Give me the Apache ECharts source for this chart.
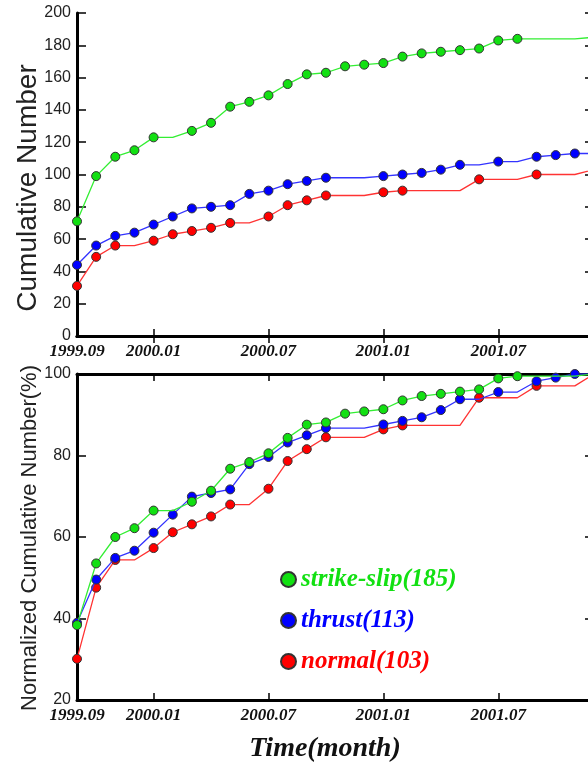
<!DOCTYPE html>
<html>
<head>
<meta charset="utf-8">
<script src="https://cdn.jsdelivr.net/npm/echarts@6/dist/echarts.min.js"></script>
<style>html,body{margin:0;padding:0;background:#fff;}#c{width:588px;height:764px;}</style>
</head>
<body>
<div id="c"></div>
<script>
// Months from 1999.09 to 2001.12
var months = ['1999.09','1999.10','1999.11','1999.12','2000.01','2000.02','2000.03','2000.04','2000.05','2000.06','2000.07','2000.08','2000.09','2000.10','2000.11','2000.12','2001.01','2001.02','2001.03','2001.04','2001.05','2001.06','2001.07','2001.08','2001.09','2001.10','2001.11','2001.12'];
var tickLabels = ['1999.09','2000.01','2000.07','2001.01','2001.07'];
// Cumulative numbers
var strikeSlip = [71,99,111,115,123,123,127,132,142,145,149,156,162,163,167,168,169,173,175,176,177,178,183,184,184,184,184,185];
var thrust     = [44,56,62,64,69,74,79,80,81,88,90,94,96,98,98,98,99,100,101,103,106,106,108,108,111,112,113,113];
var normal     = [31,49,56,56,59,63,65,67,70,70,74,81,84,87,87,87,89,90,90,90,90,97,97,97,100,100,100,103];
var seriesNames = ['strike-slip(185)','thrust(113)','normal(103)'];
var totals = [185,113,103];

var colors = ['#12e012','#0000ff','#ff0000'];
var lineColors = ['#33ee33','#3333ff','#ff3333'];

function tickIdx(i){ return tickLabels.indexOf(months[i]) >= 0; }
function topTickIdx(i){ return i > 0 && tickLabels.indexOf(months[i]) >= 0; }

function buildData(arr, total){
  return arr.map(function(v,i){
    var val = total ? v / total * 100 : v;
    var changed = (i === 0) || v !== arr[i-1];
    return {value: val, symbol: changed ? 'circle' : 'none'};
  });
}

var serif = 'Liberation Serif';
var sans = 'Liberation Sans';

function xAxisBottom(gi){
  return {
    type:'category', gridIndex:gi, data:months, boundaryGap:false, position:'bottom',
    axisLine:{show:true, lineStyle:{color:'#000', width:3}},
    axisTick:{show:true, inside:true, length:7, interval:function(i){return topTickIdx(i);}, lineStyle:{color:'#000', width:1.5}},
    axisLabel:{show:true, interval:function(i){return tickIdx(i);}, margin:7, fontFamily:serif, fontStyle:'italic', fontWeight:'bold', fontSize:17, color:'#111'},
    splitLine:{show:false}
  };
}
function xAxisTop(gi){
  return {
    type:'category', gridIndex:gi, data:months, boundaryGap:false, position:'top',
    axisLine:{show:true, lineStyle:{color:'#000', width:3}},
    axisTick:{show:true, inside:true, length:7, interval:function(i){return topTickIdx(i);}, lineStyle:{color:'#000', width:1.5}},
    axisLabel:{show:false}, splitLine:{show:false}
  };
}
function yAxisLeft(gi, min, max){
  return {
    type:'value', gridIndex:gi, min:min, max:max, interval:20, position:'left',
    axisLine:{show:true, lineStyle:{color:'#000', width:3}},
    axisTick:{show:true, inside:true, length:9, lineStyle:{color:'#000', width:1.5}},
    axisLabel:{show:true, margin:6, fontFamily:sans, fontSize:16, color:'#222'},
    splitLine:{show:false}
  };
}
function yAxisRight(gi, min, max){
  return {
    type:'value', gridIndex:gi, min:min, max:max, interval:20, position:'right',
    axisLine:{show:true, lineStyle:{color:'#000', width:3}},
    axisTick:{show:true, inside:true, length:9, lineStyle:{color:'#000', width:1.5}},
    axisLabel:{show:false}, splitLine:{show:false}
  };
}

var topArrays = [strikeSlip, thrust, normal];
var series = [];
topArrays.forEach(function(arr, k){
  series.push({
    name: seriesNames[k], type:'line', xAxisIndex:0, yAxisIndex:0,
    data: buildData(arr, null), showAllSymbol:true, symbolSize:9,
    lineStyle:{color:lineColors[k], width:1.3},
    itemStyle:{color:colors[k], borderColor:'#333', borderWidth:1},
    z: 3 + (2-k)
  });
});
topArrays.forEach(function(arr, k){
  series.push({
    name: seriesNames[k], type:'line', xAxisIndex:2, yAxisIndex:2,
    data: buildData(arr, totals[k]), showAllSymbol:true, symbolSize:9,
    lineStyle:{color:lineColors[k], width:1.3},
    itemStyle:{color:colors[k], borderColor:'#333', borderWidth:1},
    z: 3 + (2-k)
  });
});

var option = {
  backgroundColor:'#fff',
  animation:false,
  grid:[
    {left:77, top:13, width:517, height:323, containLabel:false, outerBoundsMode:'none'},
    {left:77, top:374, width:517, height:326, containLabel:false, outerBoundsMode:'none'}
  ],
  xAxis:[ xAxisBottom(0), xAxisTop(0), xAxisBottom(1), xAxisTop(1) ],
  yAxis:[ yAxisLeft(0, 0, 200), yAxisRight(0, 0, 200), yAxisLeft(1, 20, 100), yAxisRight(1, 20, 100) ],
  graphic:[
    {type:'text', x:28, y:188, rotation:Math.PI/2, style:{text:'Cumulative Number', fontFamily:sans, fontSize:28, fill:'#222', textAlign:'center', textVerticalAlign:'middle'}},
    {type:'text', x:30, y:538, rotation:Math.PI/2, style:{text:'Normalized Cumulative Number(%)', fontFamily:sans, fontSize:22, fill:'#222', textAlign:'center', textVerticalAlign:'middle'}},
    {type:'text', x:325, y:749, style:{text:'Time(month)', fontFamily:serif, fontStyle:'italic', fontWeight:'bold', fontSize:28, fill:'#111', textAlign:'center', textVerticalAlign:'middle'}}
  ],
  legend:{
    orient:'vertical', left:275, top:562, itemWidth:15, itemHeight:15, itemGap:16,
    icon:'circle',
    textStyle:{fontFamily:serif, fontStyle:'italic', fontWeight:'bold', fontSize:25},
    data: seriesNames.map(function(n,k){ return {name:n, textStyle:{color:colors[k]}}; })
  },
  series: series
};
var chart = echarts.init(document.getElementById('c'), null, {renderer:'canvas'});
chart.setOption(option);
</script>
</body>
</html>
